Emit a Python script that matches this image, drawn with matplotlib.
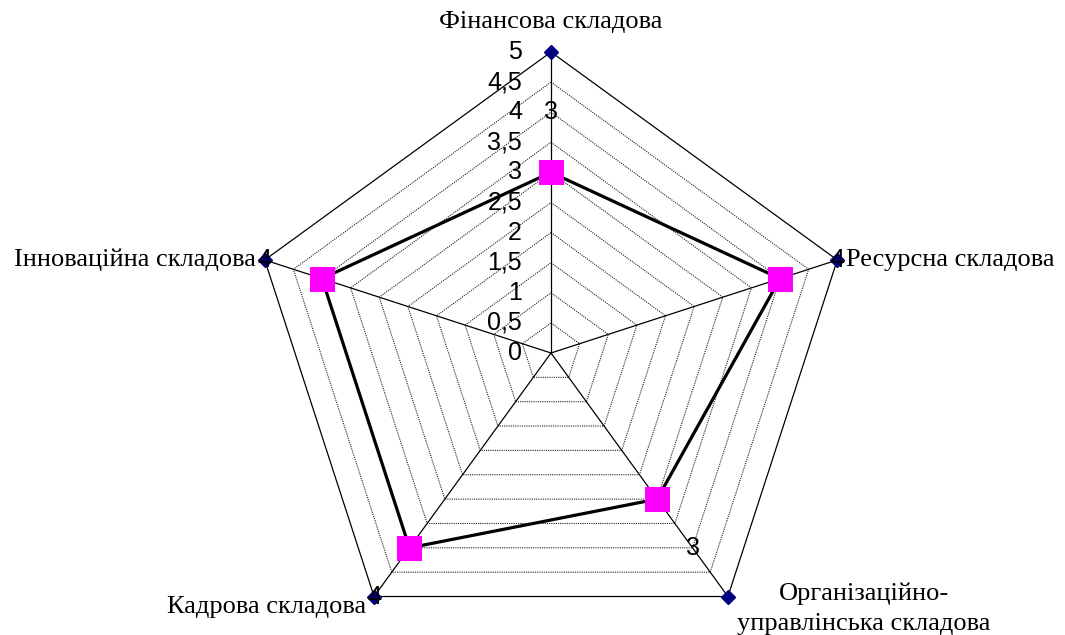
import matplotlib
matplotlib.use("Agg")
import matplotlib.pyplot as plt
import numpy as np

# data
categories = ["Фінансова складова", "Ресурсна складова",
              "Організаційно-\nуправлінська складова",
              "Кадрова складова", "Інноваційна складова"]
max_values = [5, 5, 5, 5, 5]
scores = [3, 4, 3, 4, 4]
rings = [0.5, 1, 1.5, 2, 2.5, 3, 3.5, 4, 4.5]
tick_values = [0, 0.5, 1, 1.5, 2, 2.5, 3, 3.5, 4, 4.5, 5]
tick_labels = ["0", "0,5", "1", "1,5", "2", "2,5", "3", "3,5", "4", "4,5", "5"]

n = len(categories)
angles = np.linspace(0, 2 * np.pi, n, endpoint=False)
closed = np.append(angles, angles[0])

fig = plt.figure(figsize=(10.65, 6.35), dpi=100)
ax = fig.add_axes([250 / 1065, -19 / 635, 602 / 1065, 602 / 635], projection="polar")
ax.set_theta_offset(np.pi / 2)
ax.set_theta_direction(-1)
ax.set_ylim(0, 5)
ax.axis("off")

# dotted web rings
for r in rings:
    ax.plot(closed, [r] * (n + 1), color="#222222", lw=0.8,
            linestyle=(0, (1, 1)), zorder=1)

# spokes
for a in angles:
    ax.plot([a, a], [0, 5], color="black", lw=0.9, zorder=2)

# outer series (value 5) with diamonds
ax.plot(closed, np.append(max_values, max_values[0]), color="black", lw=0.9,
        zorder=3, clip_on=False)
ax.plot(angles, max_values, linestyle="none", marker="D", markersize=7,
        color="#000080", zorder=4, clip_on=False)

# main series
ax.plot(closed, np.append(scores, scores[0]), color="black", lw=2.3, zorder=5)
ax.plot(angles, scores, linestyle="none", marker="s", markersize=18, mew=0,
        color="#FF00FF", zorder=6)

sans = "Liberation Sans"
serif = "Liberation Serif"

# data labels, one unit outward
for a, v in zip(angles, scores):
    ax.text(a, v + 1, str(v), fontsize=18, family=sans, ha="center",
            va="center", zorder=7)

# radial tick labels left of the top spoke
for v, lab in zip(tick_values, tick_labels):
    ax.annotate(lab, xy=(0, v), xytext=(-29, 0), textcoords="offset pixels",
                ha="right", va="center", fontsize=18, family=sans)

# category labels
offsets = [(0, 30, "center", "center"), (9, 0, "left", "center"),
           (136, -12, "center", "center"), (-8, -10, "right", "center"),
           (-9, 0, "right", "center")]
for a, lab, (dx, dy, ha, va) in zip(angles, categories, offsets):
    ax.annotate(lab, xy=(a, 5), xytext=(dx, dy), textcoords="offset pixels",
                ha=ha, va=va, fontsize=19, family=serif,
                multialignment="center", linespacing=1.45)

fig.savefig("out.png", dpi=100)
